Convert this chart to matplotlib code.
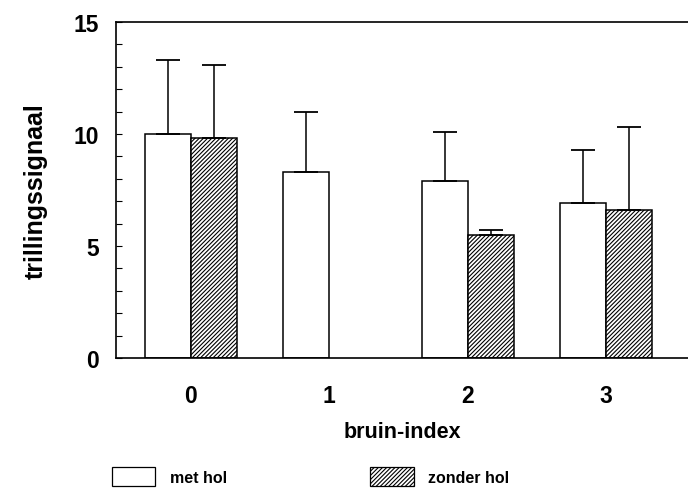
import numpy as np
import matplotlib.pyplot as plt
from matplotlib.patches import Patch

plt.rcParams['font.family'] = ['Liberation Sans', 'DejaVu Sans']
plt.rcParams['font.weight'] = 'bold'
plt.rcParams['hatch.linewidth'] = 0.8

groups = ['0', '1', '2', '3']
met_hol = [10.0, 8.3, 7.9, 6.9]
met_hol_err = [3.3, 2.7, 2.2, 2.4]
zonder_hol = [9.8, np.nan, 5.5, 6.6]
zonder_hol_err = [3.3, np.nan, 0.2, 3.7]

fig = plt.figure(figsize=(6.88, 4.89), dpi=100)
ax = fig.add_axes([0.1686, 0.2658, 0.8314, 0.6872])

x = np.arange(len(groups))
w = 0.333

ax.bar(x - w / 2, met_hol, w, color='white', edgecolor='black', linewidth=1.1)
ax.errorbar(x - w / 2, met_hol, yerr=[np.zeros(4), met_hol_err], fmt='none',
            ecolor='black', elinewidth=1.1, capsize=8.5, capthick=1.3)

# no "zonder hol" bar for bruin-index 1
zx = x[~np.isnan(zonder_hol)] + w / 2
zv = np.array(zonder_hol)[~np.isnan(zonder_hol)]
ze = np.array(zonder_hol_err)[~np.isnan(zonder_hol_err)]
ax.bar(zx, zv, w, color='white', edgecolor='black', linewidth=1.1, hatch='////////')
ax.errorbar(zx, zv, yerr=[np.zeros(len(zv)), ze], fmt='none',
            ecolor='black', elinewidth=1.1, capsize=8.5, capthick=1.3)

ax.set_xlim(-0.54, 3.59)
ax.set_ylim(0, 15)
ax.set_yticks([0, 5, 10, 15])
ax.set_yticks(np.arange(0, 16, 1), minor=True)
ax.set_xticks(x)
ax.set_xticklabels(groups)
ax.tick_params(axis='y', which='both', direction='in', length=4, width=0.8,
               labelsize=16.5, pad=12)
ax.tick_params(axis='x', length=0, labelsize=16.5, pad=19)
ax.spines['right'].set_visible(False)
for s in ['left', 'top', 'bottom']:
    ax.spines[s].set_linewidth(1.2)

ax.set_xlabel('bruin-index', fontsize=15.5, fontweight='bold', labelpad=10)
ax.set_ylabel('trillingssignaal', fontsize=18, fontweight='bold', labelpad=19)

handles = [Patch(facecolor='white', edgecolor='black', linewidth=0.9),
           Patch(facecolor='white', edgecolor='black', linewidth=0.9, hatch='////////')]
fig.legend(handles, ['met hol', 'zonder hol'], loc='lower left',
           bbox_to_anchor=(0.142, -0.026), ncol=2, frameon=False,
           fontsize=11.5, handlelength=2.7, handleheight=1.5,
           columnspacing=9.0, handletextpad=0.9)

fig.savefig('out.png', dpi=100)
